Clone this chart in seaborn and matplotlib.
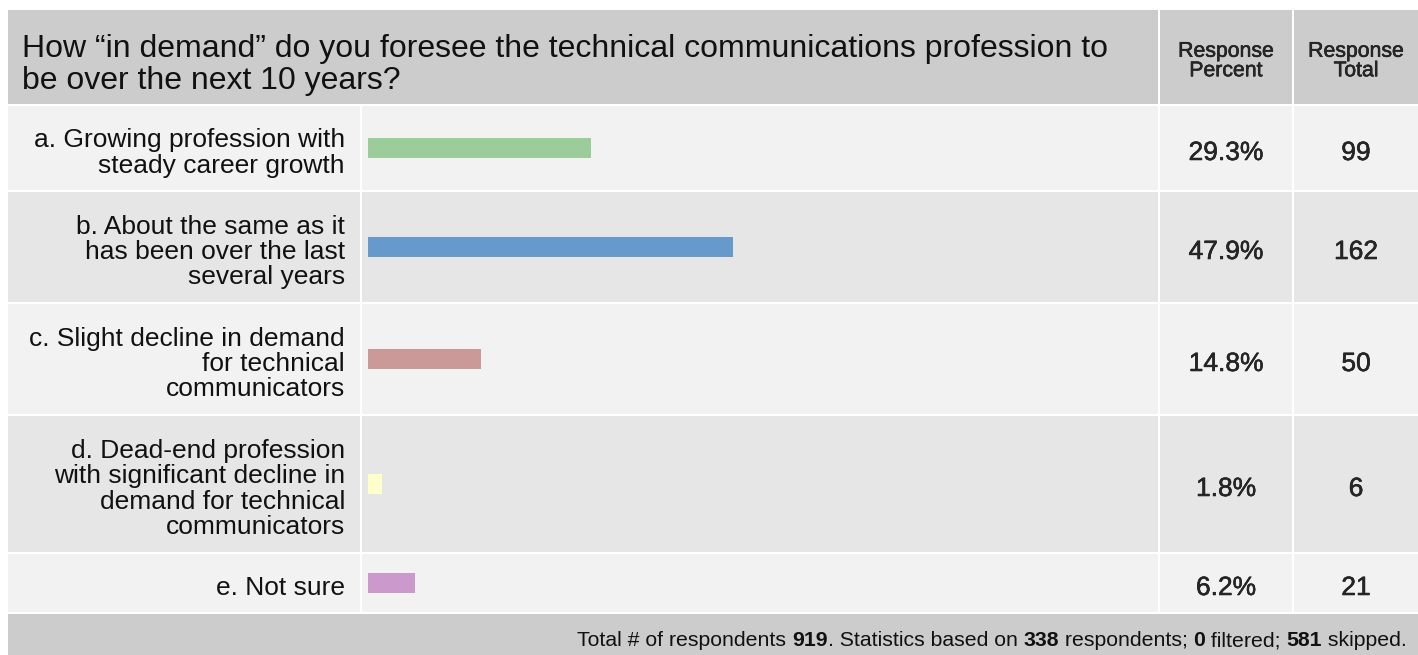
import matplotlib
matplotlib.use("Agg")
import matplotlib.pyplot as plt
import matplotlib.patheffects as pe
from matplotlib.patches import Rectangle
import pandas as pd
import seaborn as sns

sns.set_theme(style="white")
plt.rcParams["font.family"] = ["Liberation Sans", "DejaVu Sans"]

# Data
question = ("How \u201cin demand\u201d do you foresee the technical communications profession to\n"
            "be over the next 10 years?")
answers = [
    "a. Growing profession with\nsteady career growth",
    "b. About the same as it\nhas been over the last\nseveral years",
    "c. Slight decline in demand\nfor technical\ncommunicators",
    "d. Dead-end profession\nwith significant decline in\ndemand for technical\ncommunicators",
    "e. Not sure",
]
percents = [29.3, 47.9, 14.8, 1.8, 6.2]
totals = [99, 162, 50, 6, 21]
bar_colors = ["#9ccc9a", "#6699cc", "#cc9999", "#ffffcc", "#cc99cc"]
col_headers = ["Response\nPercent", "Response\nTotal"]
footer_parts = [
    ("Total # of respondents ", False), ("919", True),
    (". Statistics based on ", False), ("338", True),
    (" respondents; ", False), ("0", True),
    (" filtered; ", False), ("581", True),
    (" skipped.", False),
]

# Layout (pixels)
W, H = 1418, 655
LEFT, RIGHT = 8, 1418
C1, C2, C3 = 360, 1158, 1292          # column separators (left edge of 2px gap)
BAR_X0, BAR_X1 = 368, 1130            # 0 .. 100 %
HEADER = "#cccccc"
SHADES = ["#f2f2f2", "#e6e6e6"]
heavy = [pe.withStroke(linewidth=0.35, foreground="black")]


def fig_box(x0, y0, x1, y1):
    return [x0 / W, 1 - y1 / H, (x1 - x0) / W, (y1 - y0) / H]


fig = plt.figure(figsize=(W / 100, H / 100), dpi=100)
fig.patch.set_facecolor("white")
bg = fig.add_axes([0, 0, 1, 1])
bg.set_xlim(0, W)
bg.set_ylim(H, 0)
bg.axis("off")


def cells(y0, y1, color):
    edges = [(LEFT, C1), (C1 + 2, C2), (C2 + 2, C3), (C3 + 2, RIGHT)]
    for x0, x1 in edges:
        bg.add_patch(Rectangle((x0, y0), x1 - x0, y1 - y0, color=color, lw=0))


# header
cells(10, 104, HEADER)
bg.add_patch(Rectangle((LEFT, 10), C2 - LEFT, 94, color=HEADER, lw=0))
bg.text(22, 65, question, fontsize=23, ha="left", va="center",
        linespacing=1.12, color="#111111")
bg.text((C2 + 2 + C3) / 2, 61, col_headers[0], fontsize=15.3, ha="center",
        va="center", linespacing=1.03, path_effects=heavy)
bg.text((C3 + 2 + RIGHT) / 2, 61, col_headers[1], fontsize=15.3, ha="center",
        va="center", linespacing=1.03, path_effects=heavy)

# answer rows
y = 106
for i, (ans, pct, tot, col) in enumerate(zip(answers, percents, totals, bar_colors)):
    h = 32 + 26 * (ans.count("\n") + 1)
    cells(y, y + h, SHADES[i % 2])
    yc = y + h / 2
    bg.text(345, yc + 5, ans, fontsize=19, ha="right", va="center",
            linespacing=1.06, color="#111111")
    bg.text((C2 + 2 + C3) / 2, yc + 5, f"{pct:.1f}%", fontsize=19, ha="center",
            va="center", path_effects=heavy)
    bg.text((C3 + 2 + RIGHT) / 2, yc + 5, str(tot), fontsize=19, ha="center",
            va="center", path_effects=heavy)

    ax = fig.add_axes(fig_box(BAR_X0, y, BAR_X1, y + h))
    row = pd.DataFrame({"answer": [ans], "percent": [pct]})
    sns.barplot(data=row, x="percent", y="answer", color=col, saturation=1,
                width=20 / h, linewidth=0, ax=ax)
    ax.set_xlim(0, 100)
    ax.set_ylim(0.5, -0.5)
    ax.patch.set_alpha(0)
    ax.axis("off")
    y += h + 2

# footer
bg.add_patch(Rectangle((LEFT, y), RIGHT - LEFT, H - y, color=HEADER, lw=0))
renderer = fig.canvas.get_renderer()
x = 1407
for txt, bold in reversed(footer_parts):
    t = bg.text(x, 641, txt, fontsize=15.3, ha="right", va="center",
                fontweight="bold" if bold else "normal", color="#111111")
    x -= t.get_window_extent(renderer).width

fig.savefig("out.png", dpi=100)
